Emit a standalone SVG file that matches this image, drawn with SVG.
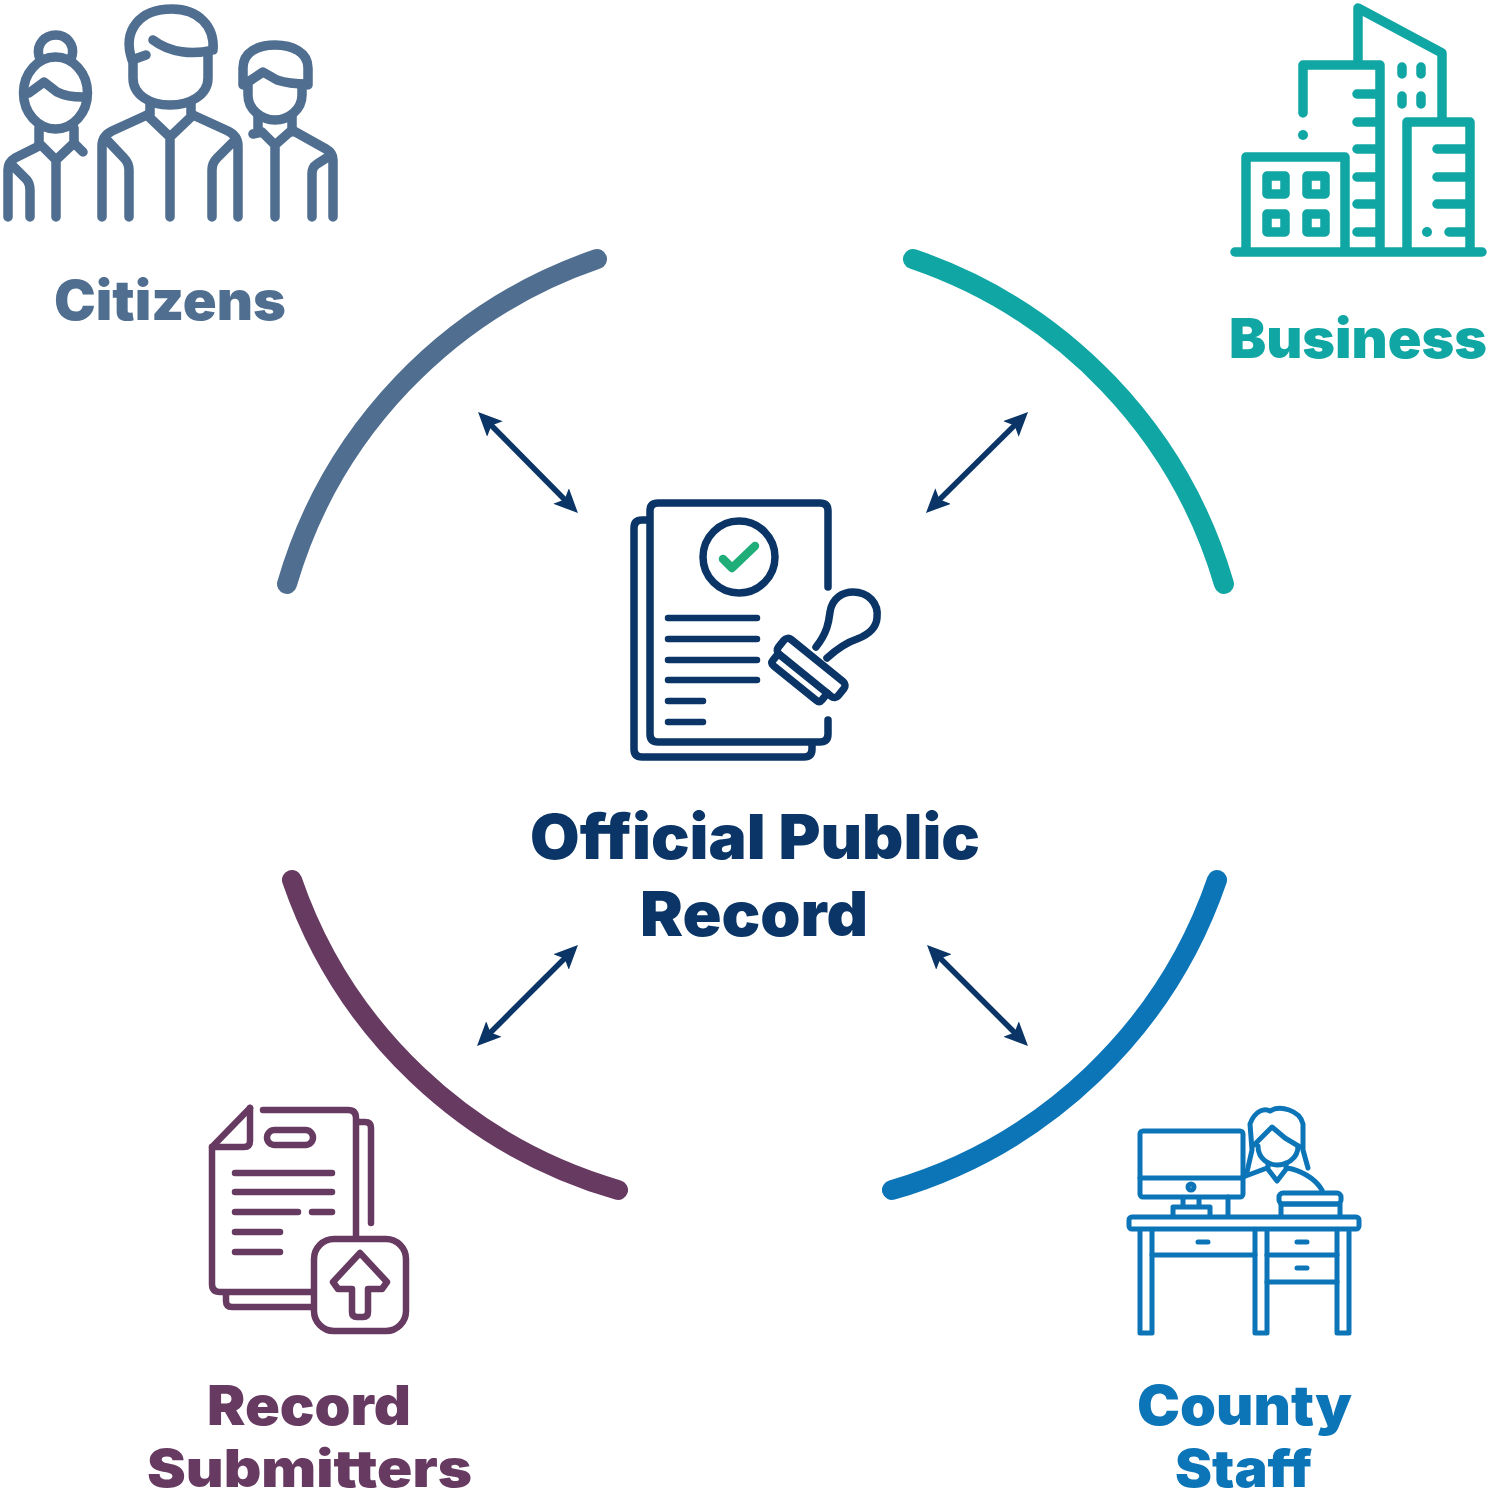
<svg xmlns="http://www.w3.org/2000/svg" width="1493" height="1500" viewBox="0 0 1493 1500">
<style>
.i{fill:none;stroke-linecap:round;stroke-linejoin:round}
.t{font-family:"Inter","Liberation Sans",sans-serif;font-weight:900}
.arc{fill:none;stroke-width:20;stroke-linecap:round}
.con{stroke:#0a3566;stroke-width:5.500;fill:none;marker-start:url(#ah);marker-end:url(#ah)}
</style>
<defs>
<marker id="ah" viewBox="0 0 24 22" refX="12" refY="11" markerWidth="24" markerHeight="22" markerUnits="userSpaceOnUse" orient="auto-start-reverse"><path d="M0 0L24 11L0 22L5 11Z" fill="#0a3566"/></marker>
</defs>
<rect width="1493" height="1500" fill="#fff"/>
<g id="connectors">
<path class="con" d="M486.500 420.500L569.500 504.500"/>
<path class="con" d="M1019.500 420.500L934.500 504.500"/>
<path class="con" d="M569.500 953.500L485.500 1037.500"/>
<path class="con" d="M935.500 953.500L1019.500 1037.500"/>
</g>
<g id="arcs">
<path class="arc" stroke="#4f6e90" d="M287 584A488 488 0 0 1 597 259"/>
<path class="arc" stroke="#0fa6a3" d="M913 259A488 488 0 0 1 1224 584"/>
<path class="arc" stroke="#673a62" d="M292 880A488 488 0 0 0 618 1190"/>
<path class="arc" stroke="#0c75b8" d="M1217 880A488 488 0 0 1 892 1190"/>
</g>
<g id="citizens">
<g class="i" stroke="#4f6e90" stroke-width="9.500">
<path d="M39 56C36 44 45 35 56 35C66 35 75 44 72 56"/>
<ellipse cx="55.500" cy="93" rx="32" ry="36"/>
<path d="M29 93L44 82L57 92C65 96 74 97 83 97"/>
<path d="M39 128V145M74 128V145M39 143L56 160L74 143M56 160V217"/>
<path d="M37 147L15 158Q8 162 8 170V217M12 165L27 180Q30 184 30 190V217M74 143L83 152"/>
<path d="M146 55L132 60C122 30 140 9 172 9C198 9 215 26 213 50C193 55 170 53 153 40"/>
<path d="M133 60V78C133 95 150 105 170 105C190 105 208 95 208 78V52"/>
<path d="M150 103V115M191 103V115M147 115L170 137L193 115M170 137V217"/>
<path d="M147 115L112 131Q102 136 102 146V217M107 140L124 158Q129 163 129 170V217M193 115L228 131Q238 136 238 146V217M233 142L217 158Q212 163 212 170V217"/>
<path d="M243 85V68C243 52 258 45 275 45C292 45 308 52 308 68V85M248 82L263 72L277 80C286 83 297 84 307 84"/>
<path d="M248 85V95C248 110 262 120 275 120C288 120 302 110 302 95V85"/>
<path d="M258 115V133M292 115V132M253 134L262 132L275 145L292 130M275 145V217"/>
<path d="M292 130L326 149Q333 153 333 160V217M328 157L317 164Q312 167 312 174V217"/>
</g>
<text class="t" x="54" y="320" font-size="55" fill="#4f6e90" textLength="232" lengthAdjust="spacingAndGlyphs">Citizens</text>
</g>
<g id="business">
<g class="i" stroke="#0fa6a3" stroke-width="9.500">
<path d="M1358 60V8L1442 53V118"/>
<path d="M1303 113V65H1380V248"/>
<path d="M1407 248V122H1470V248"/>
<path d="M1246 248V157H1345V248"/>
<path d="M1235 252H1482"/>
<path d="M1357 94H1377M1357 122H1377M1357 149H1377M1357 177H1377M1357 204H1377M1357 232H1377"/>
<path d="M1437 149H1465M1437 177H1465M1437 204H1465M1449 232H1465"/>
<path d="M1402 67V74M1421 67V74M1402 96V104M1421 96V104"/>
<rect x="1267" y="176" width="18" height="18"/>
<rect x="1307" y="176" width="18" height="18"/>
<rect x="1267" y="214" width="18" height="18"/>
<rect x="1307" y="214" width="18" height="18"/>
</g>
<circle cx="1303" cy="135" r="5" fill="#0fa6a3"/>
<circle cx="1427" cy="232" r="5" fill="#0fa6a3"/>
<text class="t" x="1229" y="358" font-size="55" fill="#0fa6a3" textLength="258" lengthAdjust="spacingAndGlyphs">Business</text>
</g>
<g id="official-public-record">
<g class="i" stroke="#0a3566" stroke-width="7.500">
<path d="M828 587V511Q828 503 820 503H658Q650 503 650 511V734Q650 742 658 742H820Q828 742 828 734V720"/>
<path d="M647 520H642Q634 520 634 528V749Q634 757 642 757H804Q812 757 812 749V743"/>
<circle cx="739" cy="557" r="36"/>
<path d="M668 618H757M668 639H757M668 660H757M668 680H757M668 701H703M668 722H703" stroke-width="6.500"/>
<g transform="translate(810 667) rotate(39)">
<rect x="-37" y="-9.500" width="77" height="19" rx="5"/>
<path d="M-33 9.500V18Q-33 22 -29 22H26Q30 22 30 18V9.500"/>
</g>
<path d="M816 647C828 632 829 620 830 612C832 598 843 592 853 592C868 592 879 603 877 618C876 630 865 636 857 639C848 642 838 648 827 658"/>
</g>
<path class="i" stroke="#1fae7a" stroke-width="8.500" d="M723 559L732 568L755 546"/>
<text class="t" x="530" y="859" font-size="62" fill="#0a3566" textLength="450" lengthAdjust="spacingAndGlyphs">Official Public</text>
<text class="t" x="640" y="936" font-size="62" fill="#0a3566" textLength="228" lengthAdjust="spacingAndGlyphs">Record</text>
</g>
<g id="record-submitters">
<g class="i" stroke="#673a62" stroke-width="6.500">
<path d="M263 1110H348Q356 1110 356 1118V1237"/>
<path d="M250 1108L212 1147V1284Q212 1292 220 1292H312"/>
<path d="M250 1108V1141Q250 1147 244 1147H212"/>
<path d="M358 1122H365Q371 1122 371 1128V1223"/>
<path d="M226 1293V1301Q226 1307 232 1307H312"/>
<rect x="267" y="1130" width="46" height="15" rx="7.500"/>
<path d="M235 1173H332M235 1192H332M235 1212H298M312 1212H332M235 1232H280M235 1252H280"/>
<rect x="314" y="1239" width="92" height="92" rx="20"/>
<path d="M360 1253L333 1282L338 1289H352V1312Q352 1317 357 1317H363Q368 1317 368 1312V1289H382L387 1282Z"/>
</g>
<text class="t" x="207" y="1425" font-size="55" fill="#673a62" textLength="204" lengthAdjust="spacingAndGlyphs">Record</text>
<text class="t" x="147" y="1487" font-size="52" fill="#673a62" textLength="325" lengthAdjust="spacingAndGlyphs">Submitters</text>
</g>
<g id="county-staff">
<g class="i" stroke="#0c75b8" stroke-width="5">
<rect x="1140" y="1131" width="103" height="66" rx="3"/>
<path d="M1140 1178H1243"/>
<circle cx="1191" cy="1187" r="3"/>
<path d="M1183 1198V1207M1199 1198V1207M1173 1215V1207H1210V1215M1228 1197V1215"/>
<rect x="1129" y="1217" width="230" height="12" rx="3"/>
<path d="M1140 1230V1333H1152V1230M1255 1230V1333H1267V1230M1337 1230V1333H1349V1230"/>
<path d="M1152 1255H1255M1267 1255H1337M1267 1282H1337"/>
<path d="M1198 1242H1208M1297 1242H1307M1297 1268H1307" stroke-width="5"/>
<rect x="1279" y="1193" width="62" height="11" rx="4"/>
<path d="M1281 1204H1340M1281 1204V1216M1340 1204V1216"/>
<path d="M1247 1172L1252 1150L1250 1124C1255 1110 1265 1108 1270 1111C1280 1105 1300 1110 1303 1124V1150L1308 1168"/>
<path d="M1254 1145L1272 1127L1285 1138L1300 1147"/>
<path d="M1258 1146C1258 1160 1270 1165 1277 1165C1285 1165 1298 1160 1298 1146"/>
<path d="M1243 1177L1267 1168L1277 1181L1287 1168C1300 1170 1315 1178 1322 1190M1268 1163V1168M1286 1163V1168"/>
</g>
<text class="t" x="1137" y="1425" font-size="55" fill="#0c75b8" textLength="215" lengthAdjust="spacingAndGlyphs">County</text>
<text class="t" x="1175" y="1487" font-size="52" fill="#0c75b8" textLength="137" lengthAdjust="spacingAndGlyphs">Staff</text>
</g>
</svg>
